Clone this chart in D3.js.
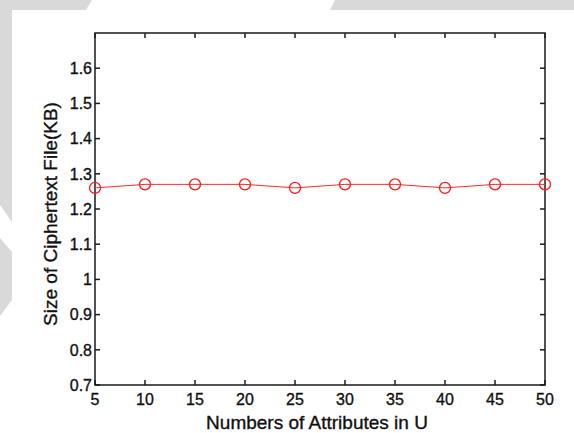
<!DOCTYPE html>
<html>
<head>
<meta charset="utf-8">
<script src="https://cdn.jsdelivr.net/npm/d3@7"></script>
<style>
	body { margin: 0; background: #fff; }
	text { font-family: "Liberation Sans", Arial, sans-serif; fill: #111; stroke: #111; stroke-width: 0.35px; }
</style>
</head>
<body>
<div id="chart"></div>
<script>
// data
var attributes = [5, 10, 15, 20, 25, 30, 35, 40, 45, 50];
var cipherSize = [1.26, 1.27, 1.27, 1.27, 1.26, 1.27, 1.27, 1.26, 1.27, 1.27];
var xTicks = [5, 10, 15, 20, 25, 30, 35, 40, 45, 50];
var yTicks = [0.7, 0.8, 0.9, 1, 1.1, 1.2, 1.3, 1.4, 1.5, 1.6];
var xTitle = "Numbers of Attributes in U";
var yTitle = "Size of Ciphertext File(KB)";

var width = 574, height = 433;
var plotLeft = 95, plotRight = 545, plotTop = 33, plotBottom = 385;
var tickLen = 5;

var svg = d3.select("#chart").append("svg")
	.attr("width", width)
	.attr("height", height);

// faint watermark bits around the page
var bg = svg.append("g").style("fill", "#d9d9d9");
bg.append("path").attr("d", "M0,0 H92 L86,10 H12 V222 L0,205 Z");
bg.append("path").attr("d", "M335,0 H574 V10 H330 Z");
bg.append("path").attr("d", "M0,238 L12,252 V300 L0,316 Z");

var x = d3.scaleLinear().domain([5, 50]).range([plotLeft, plotRight]);
var y = d3.scaleLinear().domain([0.7, 1.7]).range([plotBottom, plotTop]);

var axisG = svg.append("g");

// ticks, pointing inward on all four sides
xTicks.forEach(function(t) {
	axisG.append("line").attr("x1", x(t)).attr("x2", x(t))
		.attr("y1", plotBottom).attr("y2", plotBottom - tickLen);
	axisG.append("line").attr("x1", x(t)).attr("x2", x(t))
		.attr("y1", plotTop).attr("y2", plotTop + tickLen);
	axisG.append("text")
		.attr("x", x(t)).attr("y", plotBottom + 20)
		.attr("text-anchor", "middle")
		.style("font-size", "16px")
		.text(t);
});
yTicks.forEach(function(t) {
	axisG.append("line").attr("x1", plotLeft).attr("x2", plotLeft + tickLen)
		.attr("y1", y(t)).attr("y2", y(t));
	axisG.append("line").attr("x1", plotRight).attr("x2", plotRight - tickLen)
		.attr("y1", y(t)).attr("y2", y(t));
	axisG.append("text")
		.attr("x", plotLeft - 3).attr("y", y(t)).attr("dy", "0.36em")
		.attr("text-anchor", "end")
		.style("font-size", "16px")
		.text(t);
});
axisG.selectAll("line").style("stroke", "#1a1a1a").style("stroke-width", 1.5);

axisG.append("rect")
	.attr("x", plotLeft).attr("y", plotTop)
	.attr("width", plotRight - plotLeft).attr("height", plotBottom - plotTop)
	.style("fill", "none").style("stroke", "#1a1a1a").style("stroke-width", 1.5);

// series
var line = d3.line()
	.x(function(d, i) { return x(attributes[i]); })
	.y(function(d) { return y(d); });

svg.append("path")
	.datum(cipherSize)
	.attr("d", line)
	.style("fill", "none")
	.style("stroke", "#ff2a2a")
	.style("stroke-width", 1);

svg.selectAll("circle.pt")
	.data(cipherSize)
	.enter().append("circle")
	.attr("class", "pt")
	.attr("cx", function(d, i) { return x(attributes[i]); })
	.attr("cy", function(d) { return y(d); })
	.attr("r", 5.5)
	.style("fill", "none")
	.style("stroke", "#ff1a1a")
	.style("stroke-width", 1.3);

// axis titles
svg.append("text")
	.attr("x", (plotLeft + plotRight) / 2 - 3).attr("y", 429)
	.attr("text-anchor", "middle")
	.style("font-size", "19px")
	.text(xTitle);

svg.append("text")
	.attr("transform", "translate(57," + ((plotTop + plotBottom) / 2 + 5) + ") rotate(-90)")
	.attr("text-anchor", "middle")
	.style("font-size", "19px")
	.text(yTitle);
</script>
</body>
</html>
